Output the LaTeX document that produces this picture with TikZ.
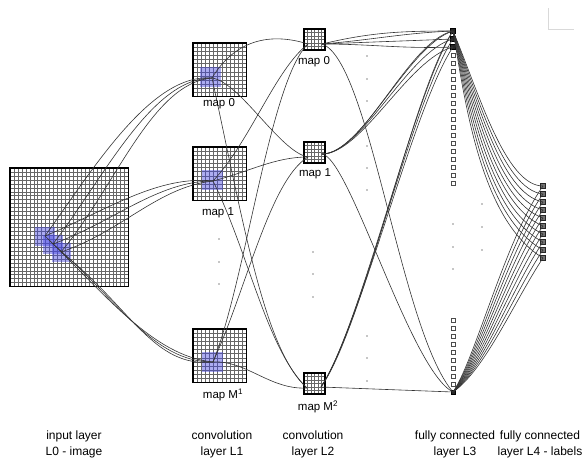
\documentclass[tikz,border=0pt]{standalone}
\usepackage{fontspec}
\setmainfont{Liberation Sans}
\newcommand{\cnnmap}[5]{% name, x0, y0, n, cell
  \foreach \k in {0,...,#4}{
    \draw[gridl] ({#2+\k*#5},#3) -- ({#2+\k*#5},{#3+#4*#5});
    \draw[gridl] (#2,{#3+\k*#5}) -- ({#2+#4*#5},{#3+\k*#5});
  }
  \node[gridb, anchor=north west, minimum width={(#4)*(#5)*1pt}, minimum height={(#4)*(#5)*1pt}] (#1) at (#2,#3) {};
}
\begin{document}
\begin{tikzpicture}[x=1pt,y=-1pt,
  gridl/.style={draw=black!60, line width=0.35pt},
  gridb/.style={draw=black, line width=1.1pt, rectangle, inner sep=0pt, outer sep=0pt},
  hl/.style={fill={rgb,255:red,70;green,70;blue,225}, fill opacity=0.45},
  conn/.style={draw=black!80, line width=0.6pt},
  lab/.style={font=\fontsize{12}{16}\selectfont, inner sep=0pt, align=center},
  mlab/.style={font=\fontsize{11.5}{14}\selectfont, inner sep=0pt},
  uthree/.style={draw=black!70, fill=white, line width=0.5pt, minimum size=4.5pt, inner sep=0pt, rectangle},
  uthreef/.style={draw=black, fill=black!85, line width=0.5pt, minimum size=5pt, inner sep=0pt, rectangle},
  ufour/.style={draw=black!85, fill=black!55, line width=0.5pt, minimum size=5pt, inner sep=0pt, rectangle},
  dotc/.style={fill=black!45, circle, inner sep=0pt, minimum size=1.6pt},
]
\useasboundingbox (0,0) rectangle (584,464);

% ---------- grids ----------
\cnnmap{in}{10}{168}{30}{3.95}
\cnnmap{aa}{193}{43}{13}{4.1}
\cnnmap{ab}{193}{147}{13}{4.1}
\cnnmap{am}{193}{329}{13}{4.1}
\cnnmap{ba}{304}{29}{6}{3.5}
\cnnmap{bb}{304}{142}{6}{3.5}
\cnnmap{bm}{304}{373}{6}{3.5}

% ---------- highlighted receptive fields ----------
\fill[hl] (35,227) rectangle (55,246);
\fill[hl] (43,235) rectangle (63,254);
\fill[hl] (52,243) rectangle (71,262);
\fill[hl] (200,67) rectangle (221,87);
\fill[hl] (202,170) rectangle (223,190);
\fill[hl] (202,352) rectangle (223,372);

% ---------- connection points ----------
\coordinate (i1) at (45,236);
\coordinate (i2) at (53,244);
\coordinate (i3) at (61,252);
\coordinate (f0) at (212,78);
\coordinate (f1) at (213,181);
\coordinate (fm) at (213,362);
\coordinate (g0i) at (308,44);
\coordinate (g0o) at (322,44);
\coordinate (g1i) at (308,157);
\coordinate (g1o) at (322,154);
\coordinate (gmi) at (307,388);
\coordinate (gmo) at (321,387);

% ---------- L3 and L4 units ----------
\foreach \j in {0,...,19}{
  \ifnum\j<3
    \node[uthreef] (l3-\j) at (453,{31+8*\j}) {};
  \else
    \node[uthree] (l3-\j) at (453,{31+8*\j}) {};
  \fi
}
\foreach \j in {0,...,8}{
  \node[uthree] (l3b-\j) at (453,{320+8*\j}) {};
}
\node[uthreef, minimum size=3.5pt] (l3B) at (453,392) {};
\foreach \i in {0,...,9}{
  \node[ufour] (l4-\i) at (543,{186+8*\i}) {};
}

% ---------- input -> L1 ----------
\draw[conn] (i1) .. controls +(50,-70) and +(-60,-5) .. (f0);
\draw[conn] (i2) .. controls +(52,-68) and +(-60,0) .. (f0);
\draw[conn] (i3) .. controls +(55,-66) and +(-60,5) .. (f0);
\draw[conn] (i1) .. controls +(60,-25) and +(-55,-6) .. (f1);
\draw[conn] (i2) .. controls +(60,-22) and +(-55,0) .. (f1);
\draw[conn] (i3) .. controls +(60,-20) and +(-55,6) .. (f1);
\draw[conn] (i1) .. controls +(60,58) and +(-60,-6) .. (fm);
\draw[conn] (i2) .. controls +(65,56) and +(-60,0) .. (fm);
\draw[conn] (i3) .. controls +(70,55) and +(-60,6) .. (fm);

% ---------- L1 -> L2 ----------
\draw[conn] (f0) .. controls +(23,-38) and +(-38,-12) .. (g0i);
\draw[conn] (f0) .. controls +(28,4) and +(-28,-5) .. (g1i);
\draw[conn] (f0) .. controls +(33,153) and +(-42,-38) .. (gmi);
\draw[conn] (f1) .. controls +(38,-41) and +(-33,26) .. (g0i);
\draw[conn] (f1) .. controls +(38,-10) and +(-33,0) .. (g1i);
\draw[conn] (f1) .. controls +(35,70) and +(-40,-38) .. (gmi);
\draw[conn] (fm) .. controls +(33,-82) and +(-38,36) .. (g0i);
\draw[conn] (fm) .. controls +(33,-72) and +(-38,23) .. (g1i);
\draw[conn] (fm) .. controls +(33,-2) and +(-37,2) .. (gmi);

% ---------- L2 -> L3 ----------
\draw[conn] (g0o) .. controls +(50,-12) and +(-50,0) .. (l3-0.center);
\draw[conn] (g0o) .. controls +(50,-4) and +(-50,2) .. (l3-0.center);
\draw[conn] (g0o) .. controls +(50,-2) and +(-50,2) .. (l3-1.center);
\draw[conn] (g0o) .. controls +(50,0) and +(-50,2) .. (l3-2.center);
\draw[conn] (g1o) .. controls +(40,0) and +(-45,14) .. (l3-0.center);
\draw[conn] (g1o) .. controls +(42,0) and +(-45,10) .. (l3-0.center);
\draw[conn] (g1o) .. controls +(40,0) and +(-45,12) .. (l3-1.center);
\draw[conn] (g1o) .. controls +(40,0) and +(-45,12) .. (l3-2.center);
\draw[conn] (gmo) .. controls +(40,-60) and +(-40,64) .. (l3-0.center);
\draw[conn] (gmo) .. controls +(43,-60) and +(-40,58) .. (l3-0.center);
\draw[conn] (gmo) .. controls +(40,-60) and +(-40,60) .. (l3-1.center);
\draw[conn] (gmo) .. controls +(40,-60) and +(-40,60) .. (l3-2.center);
\draw[conn] (g0o) .. controls +(48,16) and +(-53,-62) .. (l3B.center);
\draw[conn] (g1o) .. controls +(28,4) and +(-43,-22) .. (l3B.center);
\draw[conn] (gmo) -- (l3B.center);

% ---------- L3 -> L4 ----------
\foreach \i in {0,...,9}{
  \pgfmathsetmacro{\ax}{478-13*\i/9}
  \pgfmathsetmacro{\ay}{90+10*\i/9}
  \pgfmathsetmacro{\bx}{505-25*\i/9}
  \pgfmathsetmacro{\by}{186+34*\i/9}
  \draw[conn] (l3-0.center) .. controls (\ax,\ay) and (\bx,\by) .. (l4-\i.center);
  \pgfmathsetmacro{\cx}{475+10*\i/9}
  \pgfmathsetmacro{\cy}{360+10*\i/9}
  \pgfmathsetmacro{\dx}{505+10*\i/9}
  \pgfmathsetmacro{\dy}{240+60*\i/9}
  \draw[conn] (l3B.center) .. controls (\cx,\cy) and (\dx,\dy) .. (l4-\i.center);
}

% ---------- ellipsis dots ----------
\foreach \n/\x/\y in {a1/219/239, a2/219/262, a3/219/284,
  b1/313/252, b2/313/274, b3/313/297,
  c1/367/56, c2/367/79, c3/367/101, c4/367/146, c5/367/168, c6/367/190,
  c7/367/336, c8/367/358, c9/367/381,
  e1/453/224, e2/453/247, e3/453/269,
  h1/482/204, h2/482/227, h3/482/250}{
  \node[dotc] (dot-\n) at (\x,\y) {};
}

% ---------- map labels ----------
\node[mlab] (ma0) at (219,104) {map 0};
\node[mlab] (ma1) at (218,213) {map 1};
\node[mlab] (mam) at (223,395) {map M\textsuperscript{1}};
\node[mlab] (mb0) at (314,62) {map 0};
\node[mlab] (mb1) at (315,174) {map 1};
\node[mlab] (mbm) at (318,407) {map M\textsuperscript{2}};

% ---------- layer labels ----------
\node[lab] (t0) at (74,444) {input layer\\L0 - image};
\node[lab] (t1) at (222,444) {convolution\\layer L1};
\node[lab] (t2) at (313,444) {convolution\\layer L2};
\node[lab] (t3) at (455,444) {fully connected\\layer L3};
\node[lab] (t4) at (540,444) {fully connected\\layer L4 - labels};

% ---------- faint corner mark ----------
\draw[black!15, line width=1pt] (548,8) -- (548,29) -- (574,29);
\end{tikzpicture}
\end{document}
